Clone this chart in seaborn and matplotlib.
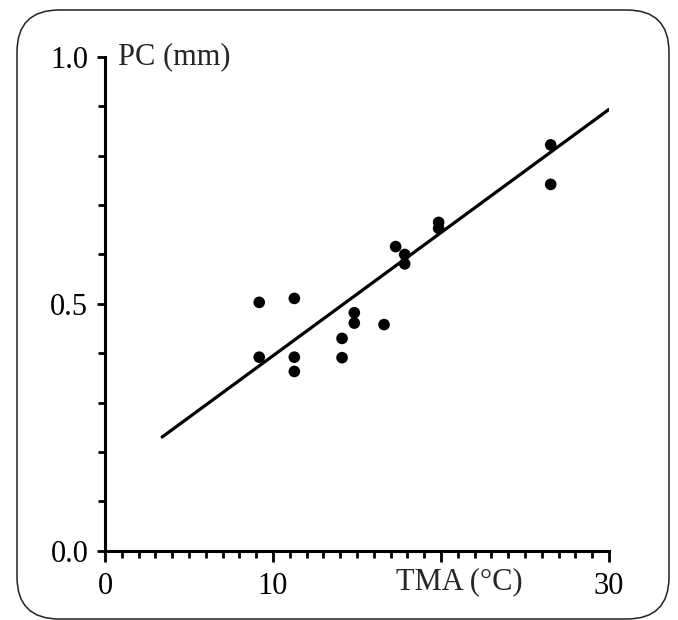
import numpy as np
import pandas as pd
import seaborn as sns
import matplotlib.pyplot as plt
from matplotlib.patches import FancyBboxPatch
from matplotlib.ticker import MultipleLocator

# data
tma = [9.18, 9.18, 11.27, 11.27, 11.27, 14.11, 14.11, 14.84, 14.84, 16.61,
       17.30, 17.84, 17.84, 19.86, 19.86, 26.53, 26.53]
pc = [0.503, 0.392, 0.511, 0.392, 0.363, 0.430, 0.391, 0.482, 0.461, 0.458,
      0.616, 0.600, 0.581, 0.665, 0.653, 0.822, 0.742]

# fitted line as drawn
fit_x = [3.4, 30.0]
fit_intercept = 0.1454
fit_slope = 0.02495

x_ticks = [0, 10, 20, 30]
x_tick_labels = ["0", "10", "", "30"]
y_ticks = [0.0, 0.5, 1.0]
y_tick_labels = ["0.0", "0.5", "1.0"]

df = pd.DataFrame({"TMA": tma, "PC": pc})
fit_df = pd.DataFrame({"TMA": fit_x,
                       "PC": [fit_intercept + fit_slope * v for v in fit_x]})

sns.set_style("ticks")
plt.rcParams["font.family"] = ["Liberation Serif", "DejaVu Serif"]

fig = plt.figure(figsize=(6.78, 6.2), dpi=100)
W, H = 678, 620

# rounded frame around the whole figure
frame = FancyBboxPatch((17 / W, 1 / H), (669 - 17) / W, (610 - 1) / H,
                       boxstyle="round,pad=0,rounding_size=0.062",
                       transform=fig.transFigure, fill=False,
                       edgecolor="#222222", linewidth=1.1,
                       mutation_aspect=W / H)
fig.patches.append(frame)

ax = fig.add_axes([105 / W, (H - 550.7) / H, (609 - 105) / W, (550.7 - 57) / H])

sns.lineplot(data=fit_df, x="TMA", y="PC", color="black", linewidth=2.3, ax=ax, zorder=2)
sns.scatterplot(data=df, x="TMA", y="PC", color="black", s=70, edgecolor="none",
                ax=ax, zorder=3)

ax.set_xlim(0, 30)
ax.set_ylim(0, 1.0)
ax.set_xticks(x_ticks)
ax.set_xticklabels(x_tick_labels)
ax.set_yticks(y_ticks)
ax.set_yticklabels(y_tick_labels)
ax.xaxis.set_minor_locator(MultipleLocator(1))
ax.yaxis.set_minor_locator(MultipleLocator(0.1))
ax.tick_params(axis="both", which="major", direction="out", width=2, length=6,
               labelsize=22, color="black", labelcolor="black")
ax.tick_params(axis="x", which="major", length=8, pad=7)
ax.tick_params(axis="y", which="major", pad=6)
ax.tick_params(axis="both", which="minor", direction="out", width=2, length=5,
               color="black")

for side in ["top", "right"]:
    ax.spines[side].set_visible(False)
for side in ["left", "bottom"]:
    ax.spines[side].set_linewidth(2.2)
    ax.spines[side].set_color("black")

ax.set_xlabel("")
ax.set_ylabel("")
ax.text(21.1, -0.034, "TMA (°C)", ha="center", va="top", fontsize=22,
        transform=ax.transData, clip_on=False)
ax.text(0.025, 1.0, "PC (mm)", ha="left", va="center", fontsize=22,
        transform=ax.transAxes, clip_on=False)

fig.savefig("out.png", dpi=100)
